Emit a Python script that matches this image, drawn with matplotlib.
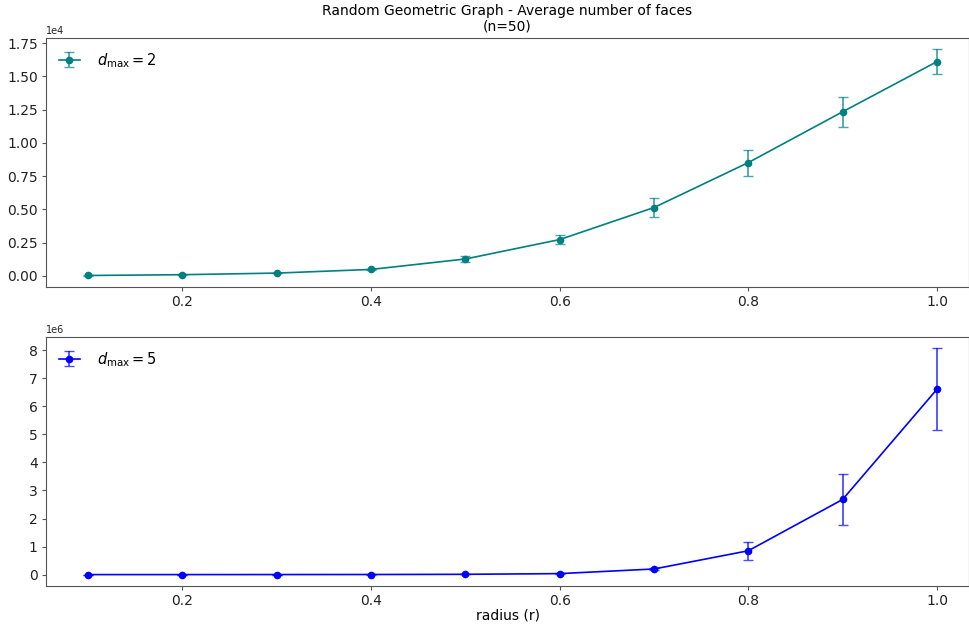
import numpy as np
import matplotlib
matplotlib.use("Agg")
import matplotlib.pyplot as plt
from matplotlib.ticker import MultipleLocator

# data
radius = [0.1, 0.2, 0.3, 0.4, 0.5, 0.6, 0.7, 0.8, 0.9, 1.0]
faces_d2 = [20, 80, 200, 475, 1260, 2720, 5130, 8510, 12330, 16100]
err_d2 = [5, 15, 30, 60, 200, 350, 720, 980, 1130, 950]
faces_d5 = [0, 200, 1500, 3000, 10000, 35000, 200000, 850000, 2680000, 6610000]
err_d5 = [0, 50, 300, 800, 3000, 12000, 50000, 320000, 920000, 1470000]

plt.rcParams['axes.edgecolor'] = '#555555'
plt.rcParams['xtick.color'] = '#555555'
plt.rcParams['ytick.color'] = '#555555'
plt.rcParams['xtick.labelcolor'] = '#222222'
plt.rcParams['ytick.labelcolor'] = '#222222'

fig, (ax1, ax2) = plt.subplots(2, 1, figsize=(9.7, 6.28), dpi=100)
fig.subplots_adjust(left=0.0475, right=0.999, top=0.94, bottom=0.067, hspace=0.2)

#top panel
ax1.errorbar(radius, faces_d2, yerr=err_d2, color='teal', ecolor=(0, 0.5, 0.5, 0.7),
             marker='o', markersize=4.5, linewidth=1.2, elinewidth=1.3, capsize=3.5,
             label=r'$d_{\max}=2$')
ax1.set_title('Random Geometric Graph - Average number of faces\n(n=50)', fontsize=10, pad=5)
ax1.legend(loc='upper left', fontsize=10.5, frameon=False, handlelength=1.4, handletextpad=1.2)
ax1.yaxis.set_major_locator(MultipleLocator(2500))
ax1.ticklabel_format(axis='y', style='sci', scilimits=(0, 0))

#bottom panel
ax2.errorbar(radius, faces_d5, yerr=err_d5, color='blue', ecolor=(0, 0, 1, 0.7),
             marker='o', markersize=4.5, linewidth=1.2, elinewidth=1.3, capsize=3.5,
             label=r'$d_{\max}=5$')
ax2.legend(loc='upper left', fontsize=10.5, frameon=False, handlelength=1.4, handletextpad=1.2)
ax2.set_xlabel('radius (r)', fontsize=10, labelpad=0)
ax2.yaxis.set_major_locator(MultipleLocator(1e6))

for ax in (ax1, ax2):
    ax.set_xlim(0.0555, 1.034)
    ax.tick_params(labelsize=10, length=3, pad=3)
    ax.yaxis.get_offset_text().set_fontsize(7)

plt.savefig('out.png', dpi=100)
